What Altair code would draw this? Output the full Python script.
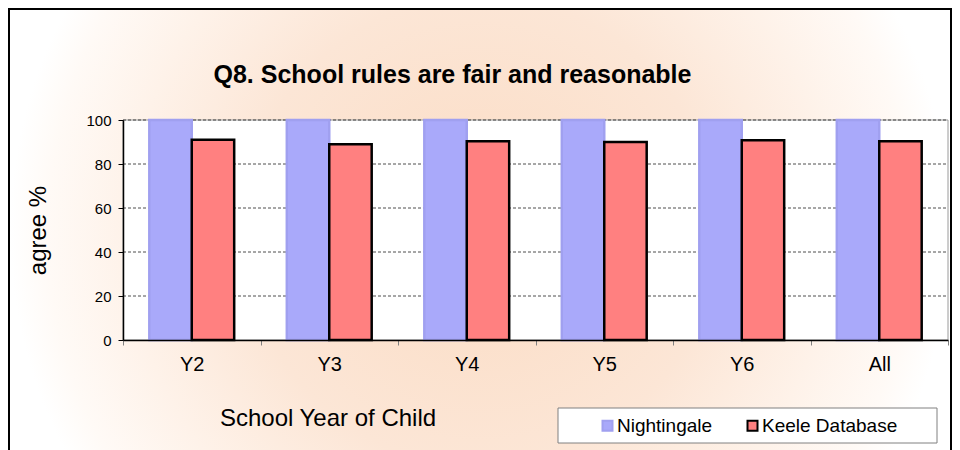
import altair as alt
import pandas as pd

# ---- data ----
categories = ["Y2", "Y3", "Y4", "Y5", "Y6", "All"]
series = ["Nightingale", "Keele Database"]
nightingale = [100, 100, 100, 100, 100, 100]
keele = [91.0, 89.0, 90.3, 90.0, 90.8, 90.3]
y_ticks = [0, 20, 40, 60, 80, 100]
grid_values = [20, 40, 60, 80, 100]

rows = []
for c, n, k in zip(categories, nightingale, keele):
    rows.append({"cat": c, "series": series[0], "value": n})
    rows.append({"cat": c, "series": series[1], "value": k})
df = pd.DataFrame(rows)
one = pd.DataFrame({"k": [0]})

W, H = 825, 220
FONT = "Liberation Sans"
BLUE = "#A9A9FA"
RED = "#FF8080"

yscale = alt.Scale(domain=[0, 100])
yaxis = alt.Axis(
    values=y_ticks, title="agree %", titleFontSize=24, titleFont=FONT,
    titleFontWeight="normal", titleColor="black",
    titleX=-85, titleY=110, titleAngle=270, titleAlign="center",
    titleBaseline="middle",
    labelFontSize=15, labelFont=FONT, labelColor="black", labelPadding=7,
    tickSize=5, tickColor="black", domainColor="black", domainWidth=1.5,
    grid=False, zindex=1,
)

glow = {
    "gradient": "radial",
    "x1": 0.5, "y1": 0.5, "r1": 0,
    "x2": 0.5, "y2": 0.5, "r2": 0.5,
    "stops": [
        {"offset": 0, "color": "#FBDCC4"},
        {"offset": 0.5, "color": "#FCE6D6"},
        {"offset": 0.75, "color": "#FEF2E9"},
        {"offset": 0.92, "color": "#FFFAF6"},
        {"offset": 1, "color": "#FFFFFF"},
    ],
}

bg = alt.Chart(one).mark_rect(fill=glow).encode(
    x=alt.value(-113), x2=alt.value(827), y=alt.value(-110), y2=alt.value(332)
)
border = alt.Chart(one).mark_rect(filled=False, stroke="black", strokeWidth=5).encode(
    x=alt.value(-115.5), x2=alt.value(829.5), y=alt.value(-112.5), y2=alt.value(345)
)
plotbg = alt.Chart(one).mark_rect(fill="white", stroke="#9A9A9A", strokeWidth=1).encode(
    x=alt.value(0), x2=alt.value(W), y=alt.value(0), y2=alt.value(H)
)
legend_box = alt.Chart(one).mark_rect(fill="white", stroke="#808080", strokeWidth=1).encode(
    x=alt.value(435), x2=alt.value(814), y=alt.value(288), y2=alt.value(323)
)

grid = alt.Chart(pd.DataFrame({"value": grid_values})).mark_rule(
    stroke="#222222", strokeDash=[3, 2], strokeWidth=0.8
).encode(
    y=alt.Y("value:Q", scale=yscale, axis=yaxis),
    x=alt.value(0), x2=alt.value(W),
)

legend = alt.Legend(
    title=None, orient="none", legendX=475, legendY=296, direction="horizontal",
    symbolType="square", symbolSize=100, symbolStrokeWidth=2,
    labelFontSize=19, labelFont=FONT, labelColor="black", labelOffset=0,
    columnPadding=30, padding=0,
)

bars = alt.Chart(df).mark_bar(strokeWidth=2.5).encode(
    x=alt.X(
        "cat:N", sort=categories,
        scale=alt.Scale(paddingInner=0, paddingOuter=0),
        axis=alt.Axis(
            title="School Year of Child", titleFontSize=24, titleFont=FONT,
            titleFontWeight="normal", titleColor="black",
            titleX=204.5, titleY=78, titleAlign="center", titleBaseline="middle",
            labelAngle=0, labelFontSize=20, labelFont=FONT, labelColor="black",
            labelPadding=9, tickBand="extent", tickSize=5, tickColor="#808080",
            domainColor="black", domainWidth=1.5, grid=False, zindex=1,
        ),
    ),
    xOffset=alt.XOffset(
        "series:N", sort=series,
        scale=alt.Scale(paddingOuter=0.62, paddingInner=0),
    ),
    y=alt.Y("value:Q", scale=yscale, axis=yaxis),
    color=alt.Color(
        "series:N", sort=series,
        scale=alt.Scale(domain=series, range=[BLUE, RED]), legend=legend,
    ),
    stroke=alt.Stroke(
        "series:N", sort=series,
        scale=alt.Scale(domain=series, range=["#A0A0F0", "#000000"]), legend=legend,
    ),
)

chart = alt.layer(bg, border, plotbg, grid, legend_box, bars).properties(
    width=W, height=H,
    autosize=alt.AutoSizeParams(type="none"),
    padding={"left": 115, "top": 112, "right": 4, "bottom": 110},
    title=alt.TitleParams(
        "Q8. School rules are fair and reasonable", fontSize=25, fontWeight="bold",
        font=FONT, color="black", anchor="middle", frame="group", dx=-83,
        baseline="alphabetic", offset=-103,
    ),
).configure_view(stroke=None).configure(font=FONT)

chart.save("out.html", embed_options={"renderer": "svg", "actions": False})
